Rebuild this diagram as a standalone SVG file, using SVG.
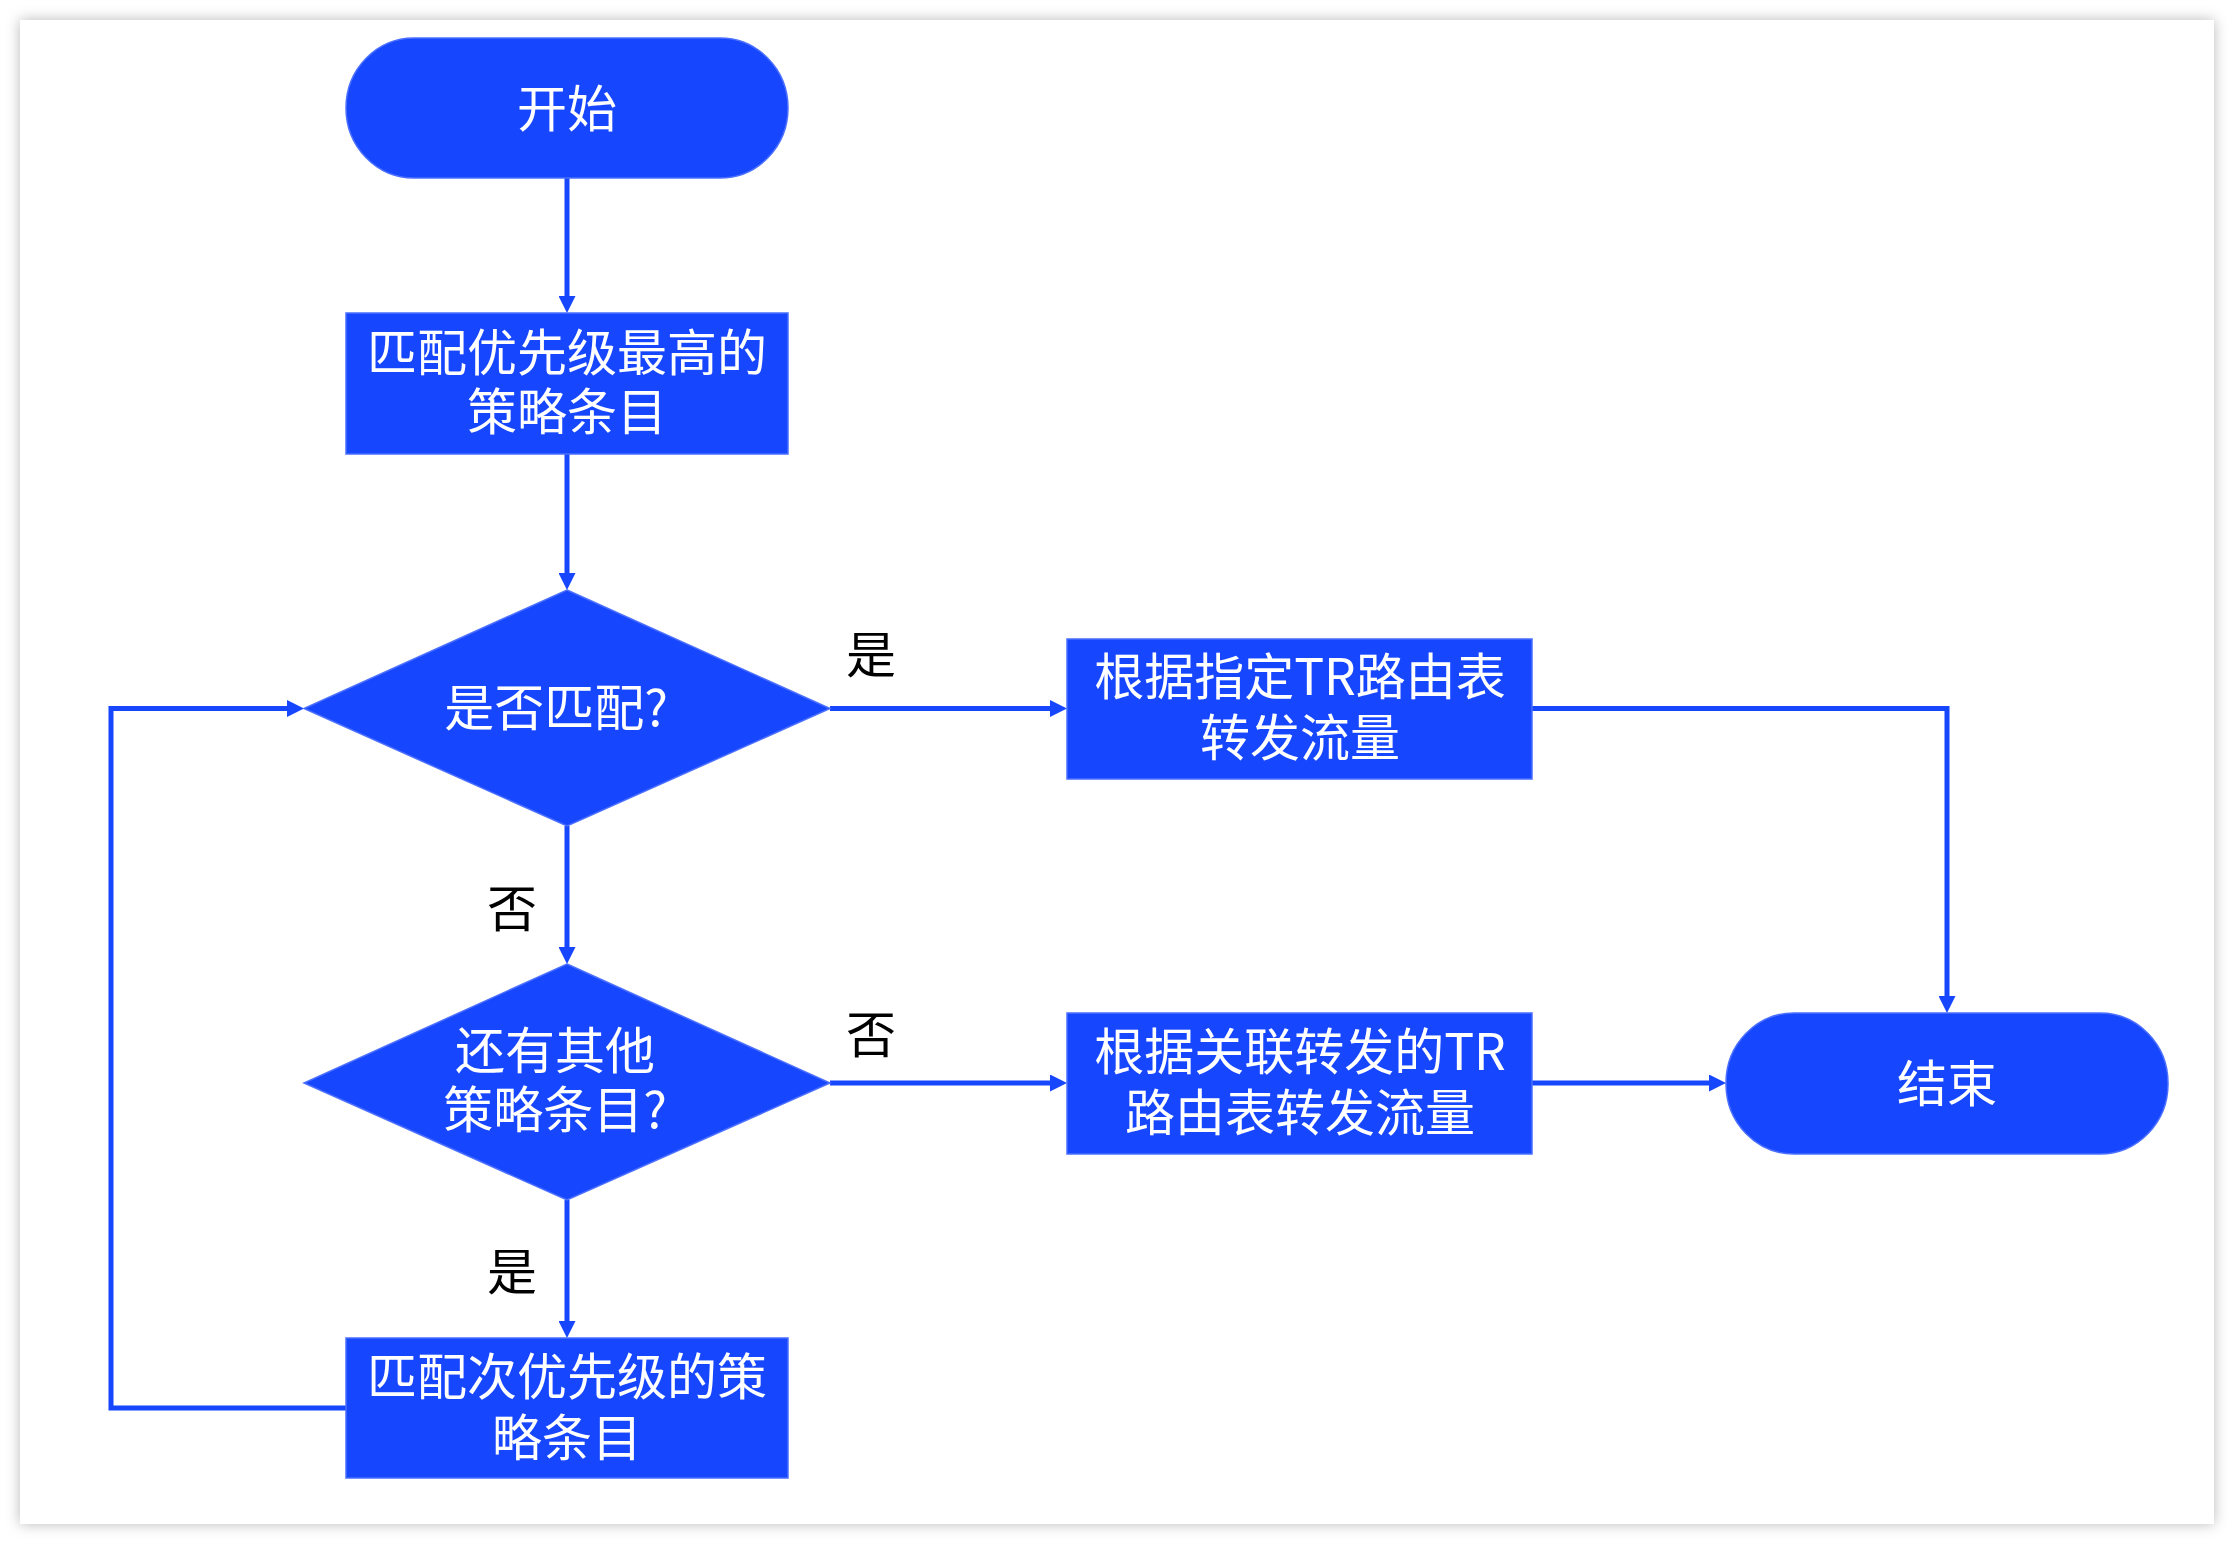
<svg xmlns="http://www.w3.org/2000/svg" width="2234" height="1544" viewBox="0 0 2234 1544">
  <defs>
    <filter id="shadow" x="-5%" y="-5%" width="110%" height="110%">
      <feDropShadow dx="0" dy="0" stdDeviation="7" flood-color="#000" flood-opacity="0.28"/>
    </filter>
    <marker id="arrow" markerUnits="userSpaceOnUse" markerWidth="17" markerHeight="17" refX="7" refY="8.5" orient="auto">
      <path d="M0,0 L17,8.5 L0,17 Z" fill="#1746ff"/>
    </marker>
  </defs>
  <style>
    .shape { fill: #1746ff; stroke: #4a6fff; stroke-width: 1.5; }
    .t { font-family: "Noto Sans CJK SC", "Noto Sans", sans-serif; font-size: 50px; fill: #ffffff; text-anchor: middle; }
    .lbl { font-family: "Noto Sans CJK SC", "Noto Sans", sans-serif; font-size: 50px; fill: #000000; text-anchor: middle; }
    .conn { fill: none; stroke: #1746ff; stroke-width: 5; }
  </style>
  <rect x="0" y="0" width="2234" height="1544" fill="#ffffff"/>
  <rect x="20" y="20" width="2194" height="1504" fill="#ffffff" filter="url(#shadow)"/>

  <g id="connectors">
    <path class="conn" d="M567,178 L567,303" marker-end="url(#arrow)"/>
    <path class="conn" d="M567,454 L567,580" marker-end="url(#arrow)"/>
    <path class="conn" d="M830,708.5 L1057,708.5" marker-end="url(#arrow)"/>
    <path class="conn" d="M1532,708.5 L1947,708.5 L1947,1003" marker-end="url(#arrow)"/>
    <path class="conn" d="M567,826 L567,954" marker-end="url(#arrow)"/>
    <path class="conn" d="M830,1083 L1057,1083" marker-end="url(#arrow)"/>
    <path class="conn" d="M1532,1083 L1716,1083" marker-end="url(#arrow)"/>
    <path class="conn" d="M567,1200 L567,1328" marker-end="url(#arrow)"/>
    <path class="conn" d="M346,1408 L111,1408 L111,708.5 L294,708.5" marker-end="url(#arrow)"/>
    <text class="lbl" x="871" y="673">是</text>
    <text class="lbl" x="512" y="927">否</text>
    <text class="lbl" x="871" y="1053">否</text>
    <text class="lbl" x="512" y="1290">是</text>
  </g>

  <g id="start">
    <rect class="shape" x="346" y="38" width="442" height="140" rx="68" ry="70"/>
    <text class="t" x="567" y="127">开始</text>
  </g>

  <g id="match-highest">
    <rect class="shape" x="346" y="313" width="442" height="141"/>
    <text class="t" x="567" y="371">匹配优先级最高的</text>
    <text class="t" x="567" y="430">策略条目</text>
  </g>

  <g id="is-match">
    <polygon class="shape" points="567,590 830,708.5 567,826 304,708.5"/>
    <text class="t" x="556" y="726">是否匹配?</text>
  </g>

  <g id="forward-specified">
    <rect class="shape" x="1067" y="639" width="465" height="140"/>
    <text class="t" x="1300" y="695">根据指定TR路由表</text>
    <text class="t" x="1300" y="756">转发流量</text>
  </g>

  <g id="more-entries">
    <polygon class="shape" points="567,964 830,1083 567,1200 304,1083"/>
    <text class="t" x="555" y="1069">还有其他</text>
    <text class="t" x="555" y="1128">策略条目?</text>
  </g>

  <g id="forward-associated">
    <rect class="shape" x="1067" y="1013" width="465" height="141"/>
    <text class="t" x="1300" y="1070">根据关联转发的TR</text>
    <text class="t" x="1300" y="1131">路由表转发流量</text>
  </g>

  <g id="end">
    <rect class="shape" x="1726" y="1013" width="442" height="141" rx="68" ry="70"/>
    <text class="t" x="1947" y="1102">结束</text>
  </g>

  <g id="match-next">
    <rect class="shape" x="346" y="1338" width="442" height="140"/>
    <text class="t" x="567" y="1395">匹配次优先级的策</text>
    <text class="t" x="567" y="1456">略条目</text>
  </g>
</svg>
